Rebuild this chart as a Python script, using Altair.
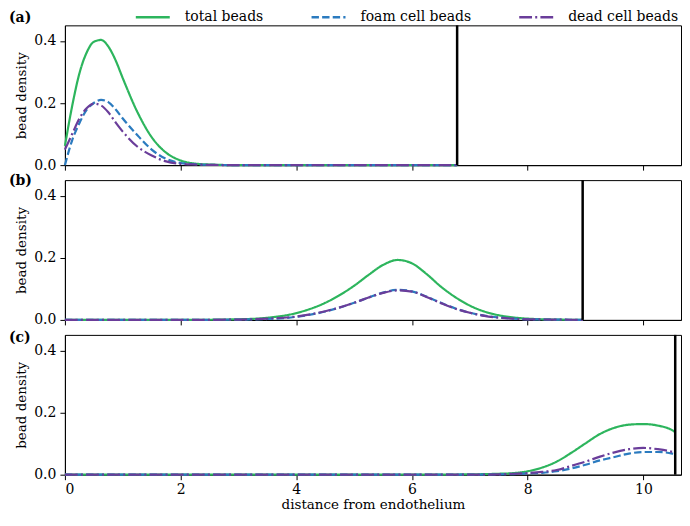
import altair as alt
import pandas as pd

series = ["total beads", "foam cell beads", "dead cell beads"]
colors = ["#2db55d", "#2b7bbf", "#6a3d9a"]
dashes = [[1, 0], [7.4, 3.2], [12.8, 3.2, 2, 3.2]]
panel_labels = ["(a)", "(b)", "(c)"]
label_y = [-7, 1, 3]
boundary = [6.78, 8.95, 10.55]
x_ticks = [0, 2, 4, 6, 8, 10]
y_ticks = [0.0, 0.2, 0.4]

# panel (a)
a_x = [0, 0.125, 0.25, 0.375, 0.5, 0.625, 0.75, 0.875, 1.0, 1.25, 1.5, 1.75,
       2.0, 2.25, 2.5, 3.0, 4.0, 5.0, 6.0, 6.78]
a_total = [0.062, 0.19, 0.295, 0.362, 0.397, 0.403, 0.382, 0.338, 0.28, 0.172,
           0.09, 0.04, 0.015, 0.005, 0.002, 0.0, 0.0, 0.0, 0.0, 0.0]
a_foam = [0.0, 0.08, 0.135, 0.178, 0.2, 0.21, 0.203, 0.18, 0.15, 0.097,
          0.05, 0.02, 0.007, 0.003, 0.001, 0.0, 0.0, 0.0, 0.0, 0.0]
a_dead = [0.05, 0.1, 0.15, 0.183, 0.198, 0.192, 0.17, 0.138, 0.108, 0.06,
          0.031, 0.012, 0.004, 0.002, 0.001, 0.0, 0.0, 0.0, 0.0, 0.0]

# panel (b)
b_x = [0, 1, 2, 3, 3.5, 4.0, 4.5, 5.0, 5.25, 5.5, 5.75, 6.0, 6.25, 6.5, 6.75,
       7.0, 7.25, 7.5, 7.75, 8.0, 8.5, 8.95]
b_total = [0.0, 0.0, 0.0, 0.002, 0.007, 0.022, 0.055, 0.11, 0.145, 0.177, 0.193,
           0.182, 0.148, 0.107, 0.073, 0.046, 0.027, 0.015, 0.008, 0.004, 0.001, 0.0]
b_foam = [0.0, 0.0, 0.0, 0.001, 0.003, 0.010, 0.027, 0.055, 0.072, 0.088, 0.097,
          0.092, 0.075, 0.055, 0.037, 0.023, 0.014, 0.008, 0.004, 0.002, 0.001, 0.0]
b_dead = [0.0, 0.0, 0.0, 0.001, 0.004, 0.011, 0.028, 0.055, 0.072, 0.087, 0.095,
          0.091, 0.074, 0.054, 0.036, 0.023, 0.013, 0.007, 0.004, 0.002, 0.001, 0.0]

# panel (c)
c_x = [0, 2, 4, 6, 7.0, 7.5, 7.75, 8.0, 8.25, 8.5, 8.75, 9.0, 9.25, 9.5, 9.75,
       10.0, 10.25, 10.5, 10.55]
c_total = [0.0, 0.0, 0.0, 0.0, 0.001, 0.003, 0.005, 0.011, 0.023, 0.042, 0.07,
           0.101, 0.131, 0.151, 0.161, 0.163, 0.158, 0.143, 0.137]
c_foam = [0.0, 0.0, 0.0, 0.0, 0.0, 0.001, 0.002, 0.004, 0.006, 0.011, 0.02,
          0.032, 0.046, 0.057, 0.068, 0.073, 0.073, 0.068, 0.066]
c_dead = [0.0, 0.0, 0.0, 0.0, 0.0, 0.001, 0.003, 0.005, 0.009, 0.015, 0.028,
          0.042, 0.058, 0.072, 0.082, 0.086, 0.082, 0.073, 0.07]

FONT = "DejaVu Serif"
W, H = 617, 140


def panel(i, xs, tot, foam, dead, bottom):
    n = len(xs)
    df = pd.DataFrame({
        "x": list(xs) * 3,
        "y": list(tot) + list(foam) + list(dead),
        "series": [series[0]] * n + [series[1]] * n + [series[2]] * n,
    })
    if bottom:
        xaxis = alt.Axis(values=x_ticks, format="d", title="distance from endothelium",
                         tickSize=5, labelPadding=3, titlePadding=1)
    else:
        xaxis = alt.Axis(values=x_ticks, labels=False, title=None, tickSize=5)
    yaxis = alt.Axis(values=y_ticks, format=".1f", title="bead density",
                     tickSize=5, labelPadding=4, titlePadding=5)
    xscale = alt.Scale(domain=[0, 10.65], nice=False, zero=False)
    yscale = alt.Scale(domain=[0, 0.45], nice=False)
    leg = alt.Legend(title=None, orient="none", legendX=81, legendY=-15,
                     direction="horizontal", symbolType="M-3.4,0H3.4", symbolSize=100,
                     symbolStrokeWidth=2.5, labelFont=FONT, labelFontSize=14,
                     labelColor="black", columnPadding=43, labelOffset=25,
                     padding=0)
    lines = alt.Chart(df).mark_line(strokeWidth=2.2, interpolate="monotone").encode(
        x=alt.X("x:Q", scale=xscale, axis=xaxis),
        y=alt.Y("y:Q", scale=yscale, axis=yaxis),
        color=alt.Color("series:N", scale=alt.Scale(domain=series, range=colors), legend=leg),
        strokeDash=alt.StrokeDash("series:N", scale=alt.Scale(domain=series, range=dashes), legend=leg),
    )
    rule = alt.Chart(pd.DataFrame({"b": [boundary[i]]})).mark_rule(
        color="black", strokeWidth=2.5).encode(
        x=alt.X("b:Q", scale=xscale), y=alt.datum(0.0), y2=alt.datum(0.45))
    lab = alt.Chart(pd.DataFrame({"t": [panel_labels[i]]})).mark_text(
        align="left", baseline="middle", font=FONT, fontWeight="bold",
        fontSize=14, color="black").encode(
        text="t:N", x=alt.value(-56), y=alt.value(label_y[i]))
    return alt.layer(lines, rule, lab).properties(width=W, height=H)


chart = alt.vconcat(
    panel(0, a_x, a_total, a_foam, a_dead, False),
    panel(1, b_x, b_total, b_foam, b_dead, False),
    panel(2, c_x, c_total, c_foam, c_dead, True),
    spacing=15,
    bounds="flush",
).properties(
    padding={"left": 0, "top": 2, "right": 0, "bottom": 0}
).configure_view(
    stroke="black", strokeWidth=1
).configure_axis(
    grid=False, domainColor="black", tickColor="black", labelColor="black",
    titleColor="black", labelFont=FONT, titleFont=FONT, labelFontSize=14,
    titleFontSize=13.5, titleFontWeight="normal", domainWidth=1, tickWidth=1
)

chart.save("out.html", embed_options={"renderer": "svg", "actions": False})
